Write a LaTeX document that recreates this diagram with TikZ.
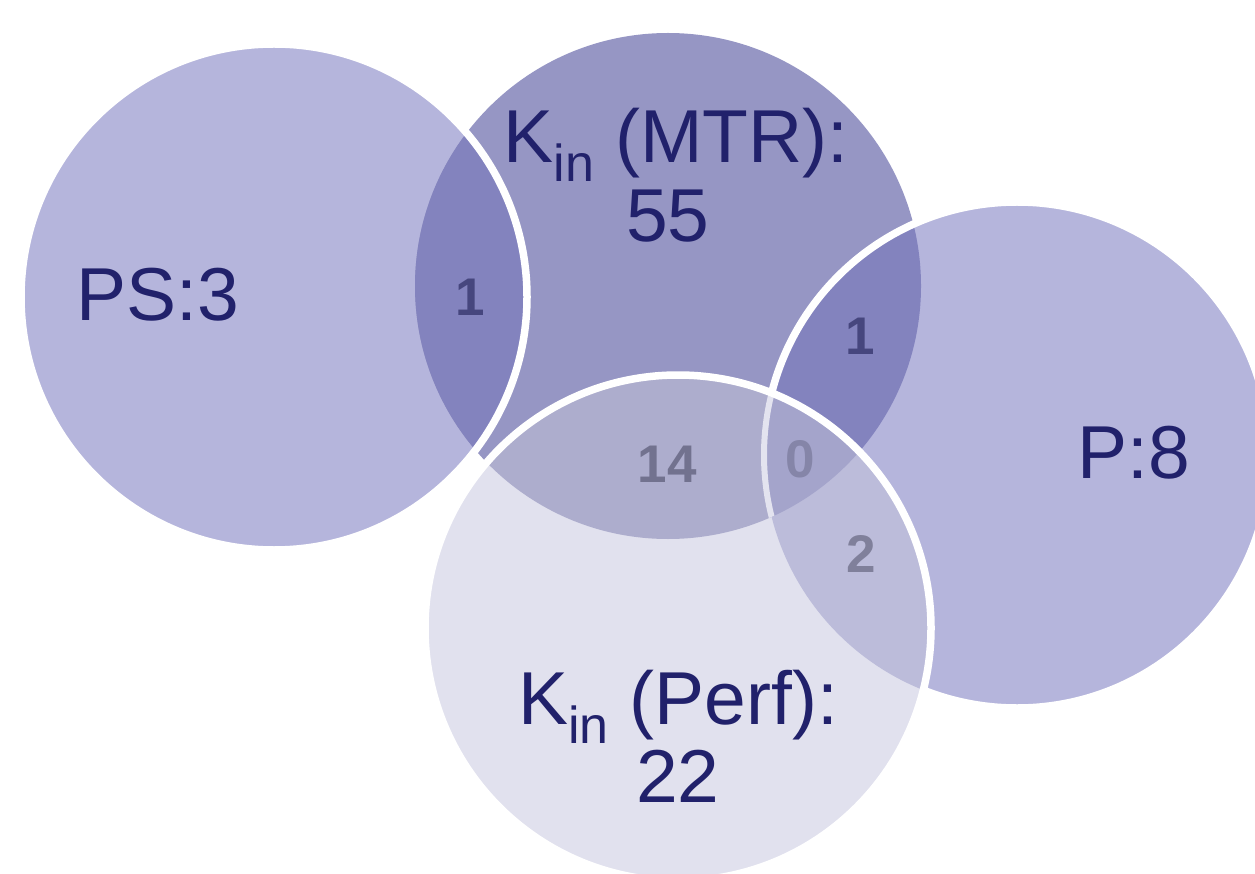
\documentclass[tikz,border=0pt]{standalone}
\usepackage{fontspec}
\setmainfont{Liberation Sans}
\definecolor{psfill}{HTML}{B5B5DC}
\definecolor{mtrfill}{HTML}{9696C4}
\definecolor{pfill}{HTML}{B5B5DC}
\definecolor{perffill}{HTML}{E1E1EE}
\definecolor{lensfill}{HTML}{8383BE}
\definecolor{mtrperffill}{HTML}{ADADCD}
\definecolor{pperffill}{HTML}{BCBCDA}
\definecolor{triplefill}{HTML}{A4A4CB}
\definecolor{pborderlight}{HTML}{E3E3EF}
\definecolor{navy}{HTML}{21216B}
\definecolor{numdark}{HTML}{46467E}
\definecolor{numgray}{HTML}{72728F}
\definecolor{numlight}{HTML}{8585A8}
\definecolor{numtwo}{HTML}{80809B}
\newcommand{\cPS}{(274,297) circle (253)}
\newcommand{\cMTR}{(668,286) circle (253)}
\newcommand{\cP}{(1017,455) circle (253)}
\newcommand{\cPerf}{(678,628) circle (253)}
\newcommand{\kin}{K\raisebox{-19pt}{\fontsize{52}{52}\selectfont in}}
\begin{document}
\begin{tikzpicture}[x=1pt,y=-1pt,
  whiteedge/.style={draw=white, line width=7.5pt},
  biglabel/.style={font=\fontsize{75}{79}\selectfont, text=navy, anchor=base, inner sep=0pt},
  numlabel/.style={font=\bfseries\fontsize{53}{53}\selectfont, anchor=base, inner sep=0pt}]
\useasboundingbox (0,0) rectangle (1255,874);
\clip (0,0) rectangle (1255,874);
% base fills
\fill[psfill] \cPS;
\fill[mtrfill] \cMTR;
\fill[pfill] \cP;
% intersections outside Perf
\begin{scope}\clip \cPS; \fill[lensfill] \cMTR; \end{scope}
\begin{scope}\clip \cMTR; \fill[lensfill] \cP; \end{scope}
% white edges of PS and P
\draw[whiteedge] \cPS;
\draw[whiteedge] \cP;
% Perf circle and its overlaps (drawn on top)
\begin{scope}
  \clip \cPerf;
  \fill[perffill] \cPerf;
  \begin{scope}\clip \cMTR; \fill[mtrperffill] \cPerf; \end{scope}
  \begin{scope}\clip \cP; \fill[pperffill] \cPerf; \end{scope}
  \begin{scope}\clip \cMTR; \clip \cP; \fill[triplefill] \cPerf; \end{scope}
  \begin{scope}\clip \cMTR; \draw[draw=pborderlight, line width=6pt] \cP; \end{scope}
\end{scope}
\draw[whiteedge] \cPerf;
% labels
\node[biglabel] (pslabel) at (158,321) {PS:3};
\node[biglabel] (mtrlabel) at (676,163) {\kin{} (MTR):};
\node[biglabel] (mtrcount) at (668,242) {55};
\node[biglabel] (plabel) at (1134,478) {P:8};
\node[biglabel] (perflabel) at (678,724) {\kin{} (Perf):};
\node[biglabel] (perfcount) at (678,802) {22};
\node[numlabel, text=numdark] (psmtr) at (470,316) {1};
\node[numlabel, text=numdark] (mtrp) at (860,355) {1};
\node[numlabel, text=numgray] (mtrperf) at (667,482) {14};
\node[numlabel, text=numlight] (triple) at (800,477) {0};
\node[numlabel, text=numtwo] (pperf) at (861,572) {2};
\end{tikzpicture}
\end{document}
